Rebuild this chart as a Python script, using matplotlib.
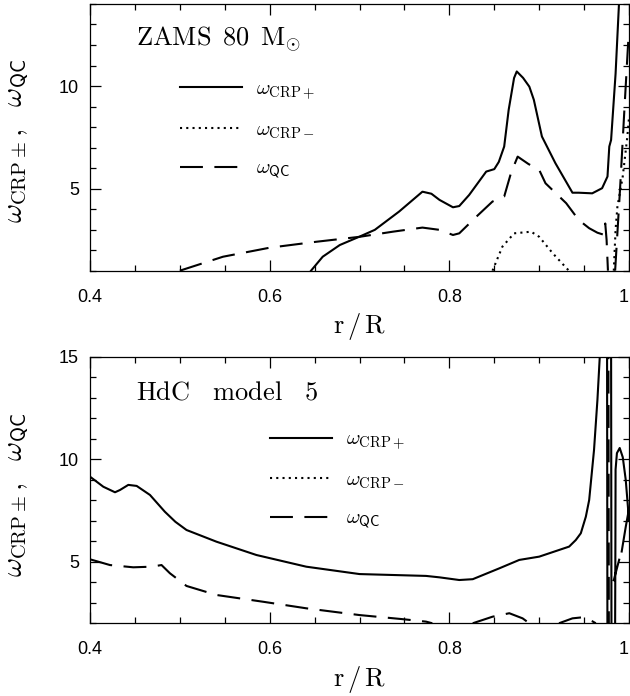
import numpy as np
import matplotlib
matplotlib.use('Agg')
import matplotlib.pyplot as plt
from matplotlib.ticker import MultipleLocator, FuncFormatter

plt.rcParams['font.family'] = ['Liberation Sans', 'DejaVu Sans']
plt.rcParams['mathtext.fontset'] = 'cm'

nan = np.nan

# --- ZAMS 80 Msun model (top panel) ---
zams_x_plus = [0.646, 0.659, 0.678, 0.70, 0.717, 0.744, 0.770, 0.780, 0.789, 0.804, 0.811, 0.822,
               0.841, 0.850, 0.855, 0.861, 0.866, 0.872, 0.875, 0.882, 0.889, 0.894, 0.903, 0.918,
               0.937, 0.944, 0.959, 0.970, 0.976, 0.978, 0.980, 0.985, 0.989]
zams_plus = [1.0, 1.68, 2.25, 2.66, 2.99, 3.88, 4.85, 4.75, 4.45, 4.09, 4.15, 4.69,
             5.83, 5.95, 6.3, 7.05, 8.84, 10.39, 10.71, 10.4, 9.97, 9.33, 7.54, 6.24,
             4.80, 4.80, 4.77, 5.02, 5.59, 7.05, 7.37, 10.6, 14.2]

zams_x_minus = [0.848, 0.859, 0.872, 0.891, 0.900, 0.915, 0.933, nan,
                0.983, 0.985, 0.987, 0.993, 0.998, 1.0]
zams_minus = [1.0, 2.17, 2.82, 2.90, 2.65, 1.85, 1.0, nan,
              1.0, 3.0, 4.1, 5.6, 7.5, 8.5]

zams_x_qc = [0.50, 0.548, 0.60, 0.652, 0.70, 0.737, 0.770, 0.789, 0.804, 0.811, 0.830, 0.848,
             0.861, 0.8685, 0.876, 0.888, 0.900, 0.907, 0.930, 0.944, 0.9556, 0.9648, 0.972,
             0.9735, 0.975, 0.9765, nan, 0.9845, 0.990, 0.995, 0.9995]
zams_qc = [1.0, 1.68, 2.12, 2.41, 2.65, 2.90, 3.10, 2.99, 2.74, 2.82, 3.63, 4.37,
           4.61, 5.75, 6.56, 6.2, 5.91, 5.26, 4.29, 3.47, 3.07, 2.85, 2.75,
           3.3, 2.5, 1.0, nan, 1.0, 5.0, 9.0, 12.5]

# --- HdC model 5 (bottom panel) ---
hdc_x_plus = [0.40, 0.4148, 0.4278, 0.4333, 0.4426, 0.4519, 0.4667, 0.4833, 0.495, 0.5074, 0.5407,
              0.5852, 0.6407, 0.70, 0.774, 0.789, 0.811, 0.826, 0.8556, 0.8778, 0.90, 0.9333,
              0.9407, 0.9463, 0.9519, 0.9556, 0.961, 0.9648, 0.9674, 0.969, nan,
              0.9755, 0.9759, nan, 0.9800, 0.9804, nan,
              0.9845, 0.9848, 0.985, 0.9865, 0.9896, 0.993, 0.9963, 1.0, nan,
              0.983, 0.989, nan, 0.9918, 0.9963, 1.0]
hdc_plus = [9.15, 8.66, 8.39, 8.5, 8.75, 8.70, 8.26, 7.44, 6.95, 6.55, 5.98,
            5.33, 4.76, 4.40, 4.31, 4.24, 4.11, 4.15, 4.68, 5.09, 5.25, 5.74,
            6.06, 6.39, 7.2, 8.01, 10.45, 12.9, 15.0, 16.5, nan,
            16.0, 2.0, nan, 16.0, 2.0, nan,
            2.0, 6.0, 9.5, 10.3, 10.55, 10.1, 9.0, 7.0, nan,
            4.1, 5.1, nan, 5.5, 6.7, 7.6]

hdc_x_minus = []
hdc_minus = []

hdc_x_qc = [0.40, 0.4222, 0.4481, 0.4685, 0.4796, 0.4889, 0.5074, 0.5407, 0.5926, 0.6407,
            0.70, 0.748, 0.774, 0.781, nan,
            0.826, 0.848, 0.8667, 0.8815, 0.889, nan,
            0.922, 0.937, 0.948, 0.959, 0.963, nan,
            0.9770, 0.9775]
hdc_qc = [5.12, 4.84, 4.73, 4.76, 4.84, 4.44, 3.82, 3.38, 3.05, 2.73,
          2.4, 2.2, 2.08, 2.0, nan,
          2.0, 2.32, 2.49, 2.24, 2.0, nan,
          2.0, 2.24, 2.29, 2.1, 2.0, nan,
          16.0, 2.0]

x_ticks = [0.4, 0.6, 0.8, 1.0]
labels = [r'$\omega_{\mathrm{CRP+}}$', r'$\omega_{\mathrm{CRP-}}$', r'$\omega_{\mathsf{QC}}$']
ylabel = r'$\omega_{\mathrm{CRP\pm}},\ \ \omega_{\mathsf{QC}}$'

LW = 1.5


def draw_panel(ax, xp, yp, xm, ym, xq, yq, ylim, title, title_pos, leg_anchor, ylab_y):
    ax.plot(xp, yp, color='black', lw=LW, label=labels[0])
    ax.plot(xm, ym, color='black', lw=LW, linestyle=(0, (1, 2)), label=labels[1])
    ax.plot(xq, yq, color='black', lw=LW, linestyle=(0, (11, 5.5)), label=labels[2])

    ax.set_xlim(0.4, 1.0)
    ax.set_ylim(*ylim)
    ax.set_xticks(x_ticks)
    ax.xaxis.set_minor_locator(MultipleLocator(0.05))
    ax.yaxis.set_major_locator(MultipleLocator(5))
    ax.yaxis.set_minor_locator(MultipleLocator(1))
    ax.xaxis.set_major_formatter(FuncFormatter(lambda v, p: f'{v:g}'))
    ax.tick_params(which='both', direction='in', top=True, right=True, width=0.9)
    ax.tick_params(which='major', length=8, labelsize=13, pad=8)
    ax.tick_params(axis='x', which='major', pad=13)
    ax.tick_params(which='minor', length=4.5)
    for s in ax.spines.values():
        s.set_linewidth(0.9)

    ax.set_xlabel(r'$\mathrm{r\,/\,R}$', fontsize=19, labelpad=4)
    ax.set_ylabel(ylabel, fontsize=21)
    ax.yaxis.set_label_coords(-0.109, ylab_y)

    ax.text(title_pos[0], title_pos[1], title, transform=ax.transAxes,
            fontsize=19, va='baseline', ha='left')

    ax.legend(loc='upper left', bbox_to_anchor=leg_anchor, frameon=False, fontsize=15,
              handlelength=3.0, handletextpad=0.65, labelspacing=0.87,
              borderpad=0, borderaxespad=0)


fig = plt.figure(figsize=(6.3, 6.96), dpi=100)
ax_top = fig.add_axes([0.1429, 0.6111, 0.8556, 0.3832])
ax_bot = fig.add_axes([0.1429, 0.1045, 0.8556, 0.3829])

draw_panel(ax_top, zams_x_plus, zams_plus, zams_x_minus, zams_minus, zams_x_qc, zams_qc,
           (1, 14), r'$\mathrm{ZAMS\ \,80\ \,M_{\odot}}$', (0.086, 0.845), (0.1667, 0.716), 0.485)
draw_panel(ax_bot, hdc_x_plus, hdc_plus, hdc_x_minus, hdc_minus, hdc_x_qc, hdc_qc,
           (2, 15), r'$\mathrm{HdC\ \ \ model\ \ \ 5}$', (0.086, 0.838), (0.333, 0.725), 0.48)

for ax in (ax_top, ax_bot):
    ax.xaxis.get_major_ticks()[-1].label1.set_horizontalalignment('right')

fig.savefig('out.png', dpi=100)
